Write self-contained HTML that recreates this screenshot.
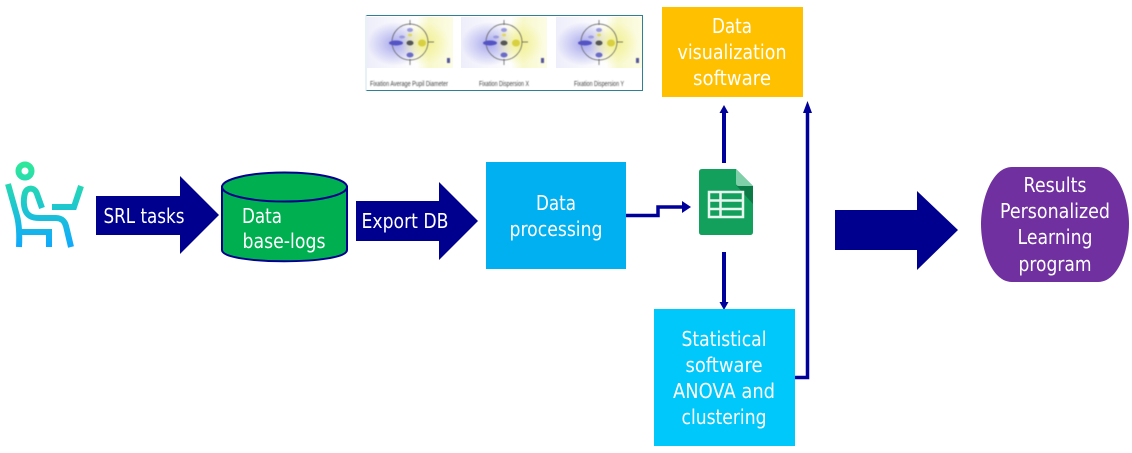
<!DOCTYPE html>
<html><head><meta charset="utf-8"><style>
html,body{margin:0;padding:0;background:#fff}
svg{display:block}
text{font-family:"DejaVu Sans","Liberation Sans",sans-serif;font-size:20px;fill:#fff;text-anchor:middle}
text.s{font-family:"Liberation Sans",sans-serif;font-size:7px;fill:#444;filter:url(#tb)}
</style></head><body>
<svg width="1132" height="453" viewBox="0 0 1132 453" xmlns="http://www.w3.org/2000/svg">
<defs>
<linearGradient id="p" gradientUnits="userSpaceOnUse" x1="0" y1="164" x2="0" y2="248"><stop offset="0" stop-color="#2ee89a"/><stop offset="1" stop-color="#0fa8ff"/></linearGradient>
<linearGradient id="bg" x1="0" x2="1" y1="0" y2="0"><stop offset="0" stop-color="#eeeefb"/><stop offset=".58" stop-color="#fefefe"/><stop offset=".72" stop-color="#f8f8cc"/><stop offset="1" stop-color="#fcfce6"/></linearGradient>
<radialGradient id="bb"><stop offset="0" stop-color="#a8a8ec"/><stop offset="1" stop-color="#a8a8ec" stop-opacity="0"/></radialGradient>
<radialGradient id="yy"><stop offset="0" stop-color="#f2f090"/><stop offset="1" stop-color="#f2f090" stop-opacity="0"/></radialGradient>
<filter id="b1" x="-10%" y="-10%" width="120%" height="120%"><feGaussianBlur stdDeviation=".6"/></filter>
<filter id="tb" x="-5%" y="-30%" width="110%" height="160%"><feGaussianBlur stdDeviation=".45"/></filter>
<g id="panel">
<rect x="0" y="0" width="86" height="51" fill="url(#bg)"/>
<ellipse cx="28" cy="27" rx="28" ry="22" fill="url(#bb)"/>
<ellipse cx="58" cy="26" rx="24" ry="22" fill="url(#yy)"/>
<g filter="url(#b1)">
<circle cx="43" cy="25" r="18" fill="none" stroke="#555" stroke-width=".7"/>
<path d="M43 3V8M43 42V48M61 25H67" stroke="#555" stroke-width=".7"/>
<ellipse cx="29" cy="26" rx="7" ry="2.500" fill="#5252c4"/><ellipse cx="43" cy="38" rx="3.500" ry="2.500" fill="#6a6ac8"/><ellipse cx="43" cy="13" rx="3" ry="2" fill="#9a9ade"/><ellipse cx="35" cy="20" rx="3" ry="1.500" fill="#9a9ade"/><ellipse cx="43" cy="26" rx="3.500" ry="2.500" fill="#555"/><ellipse cx="55" cy="26" rx="4" ry="3.500" fill="#d8d040"/><ellipse cx="43" cy="18" rx="2" ry="1.500" fill="#e0d860"/>
<rect x="80" y="41" width="3" height="5" fill="#55559a"/>
</g>
</g>
</defs>

<!-- person -->
<g fill="none" stroke="url(#p)" stroke-width="6">
<circle cx="25" cy="171" r="6.500"/>
<path d="M8 184 L17 216 Q20 228 19 247"/>
<path d="M19 232 H49 V247"/>
<path d="M42 208 L37 194 C35 187 27 187 25 193 C23 200 23 212 30 216 Q33 218 40 218 H56 C62 218 65 222 66 226 L71 247"/>
<path d="M52 207 H74 L81 186"/>
</g>

<!-- arrow 1 -->
<polygon points="96,196 180,196 180,176 219,215 180,254 180,235 96,235" fill="#00008f"/>
<text x="144" y="223" textLength="81" lengthAdjust="spacingAndGlyphs">SRL tasks</text>

<!-- cylinder -->
<path d="M222 187 V250 C222 265 347 265 347 250 V187 Z" fill="#00b050" stroke="#00008f" stroke-width="2"/>
<ellipse cx="284.500" cy="187" rx="62.500" ry="14.500" fill="#00b050" stroke="#00008f" stroke-width="2"/>
<text x="262" y="223" textLength="40" lengthAdjust="spacingAndGlyphs">Data</text>
<text x="284" y="248" textLength="83" lengthAdjust="spacingAndGlyphs">base-logs</text>

<!-- arrow 2 -->
<polygon points="356,201 439,201 439,182 478,221 439,260 439,241 356,241" fill="#00008f"/>
<text x="405" y="228" textLength="87" lengthAdjust="spacingAndGlyphs">Export DB</text>

<!-- data processing -->
<rect x="486" y="162" width="140" height="107" fill="#00b0f0"/>
<text x="556" y="210" textLength="40" lengthAdjust="spacingAndGlyphs">Data</text>
<text x="556" y="236" textLength="93" lengthAdjust="spacingAndGlyphs">processing</text>

<!-- connector to sheet -->
<path d="M626 215.500 H658 V207 H684" fill="none" stroke="#00009a" stroke-width="3.500"/>
<polygon points="682,201 691,207 682,213" fill="#00009a"/>

<!-- sheet icon -->
<path d="M702 169 H736 L753 186 V232 Q753 235 750 235 H702 Q699 235 699 232 V172 Q699 169 702 169 Z" fill="#12a05c"/>
<polygon points="736,185 753,186 753,204" fill="#0b7a45"/>
<path d="M736 169 L753 186 H739 Q736 186 736 183 Z" fill="#7fd0a8"/>
<path d="M709 192 H743 V217 H709 Z M709 200.500 H743 M709 209 H743 M720.500 192 V217" fill="none" stroke="#e8f5ee" stroke-width="2.500"/>

<!-- vertical arrows -->
<path d="M724 163 V112" stroke="#00009a" stroke-width="4"/>
<polygon points="724,105 728.500,113 719.500,113" fill="#00009a"/>
<path d="M724 252 V303" stroke="#00009a" stroke-width="4"/>
<polygon points="724,310 728.500,302 719.500,302" fill="#00009a"/>
<path d="M795 377.500 H807.500 V108" fill="none" stroke="#00009a" stroke-width="3.500"/>
<polygon points="807.500,101 812,113 803,113" fill="#00009a"/>

<!-- yellow -->
<rect x="662" y="7" width="141" height="90" fill="#ffc000"/>
<text x="732" y="33" textLength="40" lengthAdjust="spacingAndGlyphs">Data</text>
<text x="732" y="59" textLength="109" lengthAdjust="spacingAndGlyphs">visualization</text>
<text x="732" y="85" textLength="78" lengthAdjust="spacingAndGlyphs">software</text>

<!-- stats -->
<rect x="654" y="309" width="141" height="137" fill="#00c8fa"/>
<text x="724" y="346" textLength="85" lengthAdjust="spacingAndGlyphs">Statistical</text>
<text x="724" y="372" textLength="77" lengthAdjust="spacingAndGlyphs">software</text>
<text x="724" y="398" textLength="102" lengthAdjust="spacingAndGlyphs">ANOVA and</text>
<text x="724" y="424" textLength="85" lengthAdjust="spacingAndGlyphs">clustering</text>

<!-- big arrow -->
<polygon points="835,210 917,210 917,191 958,230 917,270 917,250 835,250" fill="#00008f"/>

<!-- results -->
<path d="M1012 167 H1098 C1118 167 1129 200 1129 224 C1129 250 1118 282 1098 282 H1012 C992 282 981 250 981 224 C981 200 992 167 1012 167 Z" fill="#7030a0"/>
<text x="1055" y="192" textLength="63" lengthAdjust="spacingAndGlyphs">Results</text>
<text x="1055" y="218" textLength="110" lengthAdjust="spacingAndGlyphs">Personalized</text>
<text x="1055" y="244" textLength="75" lengthAdjust="spacingAndGlyphs">Learning</text>
<text x="1055" y="271" textLength="73" lengthAdjust="spacingAndGlyphs">program</text>

<!-- image strip -->
<rect x="366" y="15" width="276" height="76" fill="#fff"/>
<use href="#panel" x="367" y="17"/>
<use href="#panel" x="461" y="17"/>
<use href="#panel" x="556" y="17"/>
<path d="M366 15.500 H642.500 V90.500 H366" fill="none" stroke="#2f7f95" stroke-width="1"/>
<path d="M366 15 V91" fill="none" stroke="#cfe6ee" stroke-width="1"/>
<text class="s" x="409" y="86" textLength="78" lengthAdjust="spacingAndGlyphs">Fixation Average Pupil Diameter</text>
<text class="s" x="504" y="86" textLength="50" lengthAdjust="spacingAndGlyphs">Fixation Dispersion X</text>
<text class="s" x="599" y="86" textLength="50" lengthAdjust="spacingAndGlyphs">Fixation Dispersion Y</text>
</svg>
</body></html>
